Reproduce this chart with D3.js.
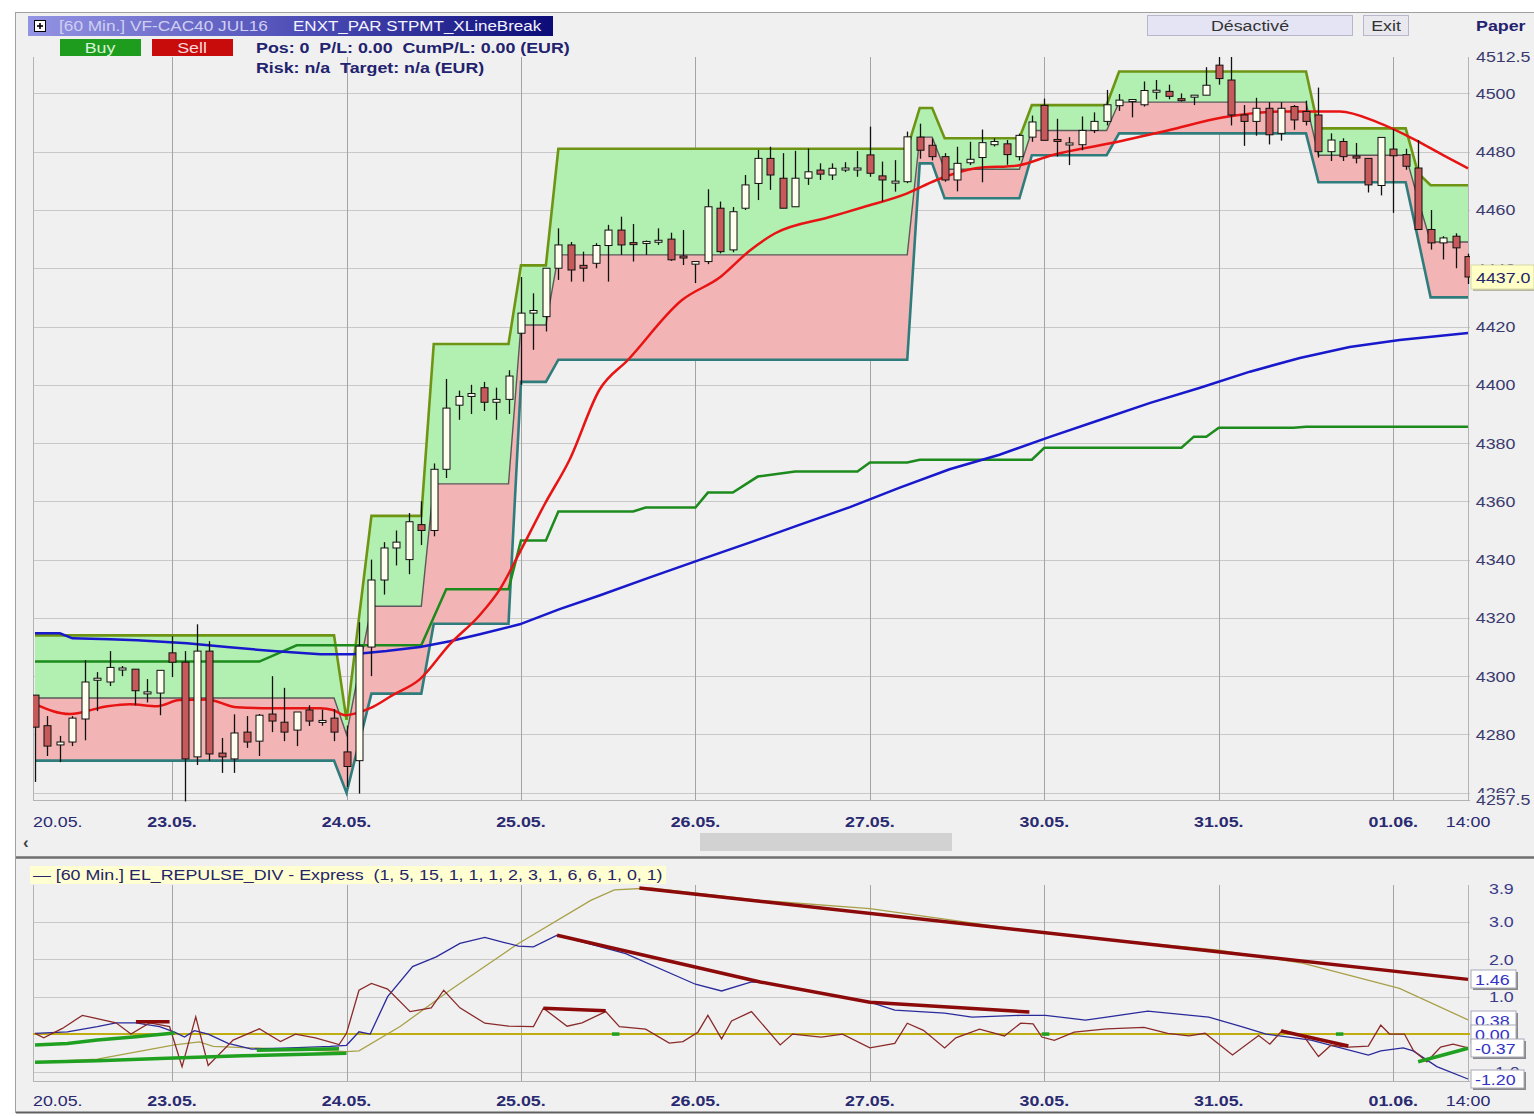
<!DOCTYPE html>
<html>
<head>
<meta charset="utf-8">
<title>VF-CAC40 JUL16 - STPMT_XLineBreak</title>
<script src="https://d3js.org/d3.v7.min.js"></script>
<style>
  body { margin: 0; background: #fff; }
  svg text { font-family: "Liberation Sans", Arial, sans-serif; white-space: pre; }
  .yaxis text { font-size: 15.5px; fill: #3a3a6e; }
  .xlab { font-size: 15.5px; fill: #2a2a70; }
  .tag text { font-size: 15.5px; fill: #3434c4; }
</style>
</head>
<body>
<svg width="1534" height="1116"></svg>
<script>
// ---- data: 60 min candles, 20.05 -> 01.06 14:00 ----
const candleOpen = [4293.5,4283,4276.4,4277.4,4285.3,4298.6,4298,4302.2,4302.4,4294,
  4294.2,4308,4304.8,4272.3,4308.6,4273.6,4271.6,4280.8,4277.7,4287,
  4284.2,4281.5,4288.4,4284.2,4285.6,4274,4271,4310,4333,4344,
  4340,4352,4350,4371,4393,4396,4399,4394,4395,4417.7,
  4424.6,4423.4,4440,4448,4441,4441.7,4447.8,4453.1,4448.8,4449,
  4449.3,4450,4444.2,4441.4,4442.3,4460.6,4446.3,4460.6,4469.1,4477.7,
  4470.9,4461.1,4470.9,4473.7,4472,4474.1,4474.2,4478.9,4471.7,4469.6,
  4469.7,4485,4482.2,4478.3,4470.3,4476.2,4478,4482.4,4482.7,4478.3,
  4485,4495.9,4484.2,4482.8,4482.4,4487.3,4490.4,4495.8,4497.7,4496.1,
  4500.9,4500.7,4498.2,4499.2,4499.4,4509.7,4504.6,4492.6,4490.4,4494.9,
  4486.3,4495.5,4493.8,4492.6,4480,4483.5,4478.5,4477.7,4468.4,4480.9,
  4479,4474.4,4453.3,4448.7,4451,4444];
const candleHigh = [4293.5,4286.3,4279.5,4286.3,4305.5,4301.4,4308.6,4303.5,4302.4,4299,
  4302,4313.7,4308.6,4317.8,4312,4278.8,4286.9,4286.3,4287,4300,
  4296,4287.7,4290,4288.5,4288.7,4283,4318.5,4340,4346,4350,
  4356,4360,4373,4402,4398,4400,4401,4399,4405,4437,
  4431.4,4440,4453.7,4449,4445.7,4448.6,4454.9,4457.7,4455.2,4449.5,
  4453.7,4452.2,4453.1,4442.3,4467.1,4462.9,4461,4472,4480.6,4481.7,
  4479.5,4480.3,4481.1,4476,4476,4476.4,4480.2,4488.6,4476.6,4477.1,
  4486.9,4489.6,4484.5,4479.5,4481.7,4483.4,4487.6,4484.6,4484,4486.2,
  4492.4,4498.2,4491.3,4485,4492.1,4493.5,4501.2,4499.8,4498,4504.1,
  4504.6,4503,4500,4499.4,4509,4512.5,4512.5,4496,4498.5,4497,
  4497,4496,4497.5,4502,4486.3,4484.6,4483,4477.7,4484.9,4487.7,
  4481,4484,4460,4451,4452,4445];
const candleLow = [4263.7,4272.6,4270.5,4276,4278,4288,4296.6,4300,4290,4291,
  4286.6,4299.7,4257,4269.5,4271,4266.8,4266.8,4275.4,4272.6,4280.8,
  4277.7,4276,4282.9,4283,4277.7,4262,4259.7,4300,4328,4338,
  4335,4345,4348,4368,4388,4390,4391,4388,4390,4400,
  4412,4418.3,4436,4435.4,4435.4,4440,4435.4,4444.6,4442.3,4444.6,
  4448,4442.5,4441.1,4434.9,4441.4,4445.1,4445.5,4460,4463.4,4466.9,
  4460.6,4461.1,4468.6,4470.3,4470.3,4473,4471.4,4471.4,4462.9,4466.3,
  4469.2,4477.6,4477,4469.7,4466.4,4475.4,4469.5,4481.8,4475.5,4477,
  4483.4,4483.9,4478.3,4475.4,4480.5,4486.4,4489,4494,4491.8,4495.5,
  4498,4498,4497.2,4496,4499.4,4503,4489,4482,4485.5,4482.5,
  4483.8,4487.5,4489,4478,4476.8,4476.8,4476,4466,4465,4459,
  4473.8,4453.3,4446.4,4443,4440,4434.6];
const candleClose = [4282.5,4276,4277.4,4285.6,4298,4299.3,4303,4302.8,4295,4294.6,
  4302,4304.8,4271.6,4308.6,4273.3,4272.3,4280.5,4277.4,4286.6,4284.6,
  4280.8,4287.7,4284.6,4284.8,4280.8,4269,4310.3,4333,4344,4346,
  4353,4350,4371,4392,4396,4397,4394,4395,4403,4424.6,
  4425.5,4440,4448,4439.4,4440,4447.8,4453.1,4448,4448.4,4449.2,
  4449.6,4442.9,4443.8,4442.3,4461.1,4445.7,4459.4,4468.6,4477.7,4472,
  4460.6,4470.9,4473.1,4472.3,4474.3,4474.4,4474.4,4472.6,4470.3,4469.9,
  4485.1,4480.5,4478.3,4470.3,4476,4477.4,4483.1,4483.5,4479,4485.6,
  4490.2,4483.9,4483.8,4483,4487.3,4490.4,4496.1,4497.7,4497.9,4501,
  4501.1,4499,4498,4499.4,4502.8,4505.1,4492.6,4490.4,4494.9,4485.8,
  4494.9,4490.9,4490.4,4480,4484,4478.3,4478.1,4468.6,4484.9,4478.6,
  4475,4453.3,4448.7,4450.4,4447,4437];

// XLineBreak bands: [bar, top, middle, bottom]
const bandPoints = [[0,4314,4292.5,4271],[24,4314,4292.5,4271],[25,4285,4280,4260],[26,4320,4302,4277],
  [27,4355,4324,4294],[31,4355,4324,4294],[32,4414,4366,4318],[38,4414,4366,4318],
  [39,4441,4420.5,4401],[41,4441,4420.5,4401],[42,4481,4444.6,4408.6],[70,4481,4444.6,4408.6],
  [71,4495,4485,4476],[72,4495,4485,4476],[73,4484.6,4474,4464],[79,4484.6,4474,4464],
  [80,4496,4487.3,4478.8],[86,4496,4487.3,4478.8],[87,4507.5,4497,4486.3],[102,4507.5,4497,4486.3],
  [103,4488,4478.8,4469.5],[110,4488,4478.8,4469.5],[111,4472.6,4463.5,4449.9],[112,4468.5,4449,4430],
  [115,4468.5,4449,4430]];

// moving averages: [bar, price]
const redMA = [[0,4290.4],[2.8,4287],[5.8,4289.7],[7.6,4290.4],[9.8,4289.7],[11.6,4291.8],[13.8,4292],
  [16.2,4289.3],[19.1,4289],[22.9,4289],[23.9,4288.4],[24.9,4286.6],[25.8,4287.3],[26.9,4289],
  [28.7,4293.5],[30.9,4299],[33.3,4311],[35.7,4321],[37.3,4329.8],[38.9,4342.5],[40.9,4359],
  [42.9,4374.3],[45.3,4398.3],[47.6,4408.6],[51.9,4429],[55,4437],[57.4,4446.2],[59.4,4452],
  [63.7,4457.5],[66.5,4461],[70,4465.7],[72.3,4470.2],[75.5,4474.3],[78.9,4475.3],[81.6,4478.8],
  [86.3,4482.9],[90.9,4487.3],[95.4,4491.8],[100.1,4493.8],[104.7,4493.8],[107.8,4490],
  [110.8,4484],[113,4478.8],[115,4474.3]];
const blueMA = [[0,4314.7],[2,4314.7],[3,4313],[6,4312.7],[8.2,4312.3],[12.2,4311.3],[15.4,4310],
  [19.1,4308.6],[22.9,4307.5],[25.5,4307.5],[28.2,4308.6],[30.9,4310],[33.3,4312],[35.7,4314.4],
  [38.9,4317.8],[42.1,4323],[45.3,4327.7],[49.4,4334],[53.4,4340],[57.4,4345.9],[61.4,4352],
  [65.4,4358],[69.4,4364.7],[73.4,4371],[77.4,4376],[81.5,4382.2],[85.5,4388],[89.5,4393.8],
  [93.5,4399],[97.5,4404.5],[101.5,4409.2],[105.5,4413],[109.5,4415.4],[115,4417.8]];
const greenMA = [[0,4305],[18,4305],[21,4310.6],[31,4310.6],[33,4329.8],[38,4329.8],[39,4346.6],
  [41,4346.6],[42,4356.5],[48,4356.5],[49,4357.9],[53,4357.9],[54,4363],[56,4363],[58,4368.5],
  [61,4370.2],[66,4370.2],[67,4373.3],[70,4373.3],[71,4374.3],[80,4374.3],[81,4378.4],[92,4378.4],
  [93,4382.2],[94,4382.2],[95,4385.3],[101,4385.3],[102,4385.6],[115,4385.6]];

// axis labels
const priceTicks = [4500,4480,4460,4440,4420,4400,4380,4360,4340,4320,4300,4280,4260];
const dayIndex = [0,11,25,39,53,67,81,95,109,115];
const dayLabels = ["20.05.","23.05.","24.05.","25.05.","26.05.","27.05.","30.05.","31.05.","01.06.","14:00"];
const lowTicks = [3.9,3.0,2.0,1.0,-1.0];
const lowTickLabels = ["3.9","3.0","2.0","1.0","-1.0"];
const lowGrid = [3,2,1,0,-1];
const lowTags = [1.46,0.38,0.00,-0.37,-1.20];

// EL_REPULSE_DIV indicator: [bar, value]
const repYellow = [[0,-0.75],[5,-0.67],[11.2,-0.29],[13.2,-0.21],[14.3,-0.33],[25,-0.47],[26,-0.45],
  [29.3,0.2],[33.3,1.17],[38.8,2.42],[44.6,3.57],[46.5,3.85],[49.4,3.9],[58.2,3.57],[67,3.35],
  [81.1,2.69],[95,2.24],[101.8,1.89],[109.5,1.22],[115,0.38]];
const repBlue = [[0,0.02],[2.6,0.06],[5,0.2],[6.5,0.3],[8.1,0.3],[10,0.2],[11.2,0.05],[12,-0.08],
  [12.8,0.09],[13.9,0],[15.5,-0.25],[17.4,-0.4],[20.5,-0.37],[23.7,-0.33],[25,-0.3],[26,0.06],
  [26.9,0],[28.3,1.0],[30.3,1.8],[32.2,2.06],[34.1,2.42],[36.1,2.58],[37.6,2.45],[38.8,2.35],
  [40,2.33],[41.9,2.64],[47.4,2.15],[53,1.33],[55.1,1.15],[57.5,1.39],[58.2,1.39],[67,0.85],
  [69,0.64],[73,0.56],[75.2,0.45],[79.1,0.5],[81.1,0.5],[84.3,0.37],[89.3,0.61],[94.2,0.45],
  [96.9,0.19],[98.8,0],[102.4,-0.16],[107,-0.56],[108,-0.45],[109.8,-0.37],[110.6,-0.45],
  [112.5,-0.87],[115,-1.2]];
const repBrown = [[0,0.02],[0.7,-0.1],[2.2,0.15],[3.8,0.5],[6.5,0.3],[7.7,0],[9.2,0.3],[10.8,0.2],
  [11.8,-0.87],[12.9,0.46],[13.9,-0.84],[15.9,-0.16],[18,0.14],[19.7,-0.2],[20.9,0],[22.5,-0.1],
  [24.4,-0.28],[25,0.02],[26,1.17],[27,1.35],[28.3,1.2],[30.1,0.6],[31.8,0.7],[32.8,1.17],
  [34.1,0.7],[36.1,0.29],[38,0.21],[40,0.2],[40.8,0.69],[42.7,0.21],[43.9,0.3],[45.8,0.6],
  [46.9,0.2],[49,0.13],[50.9,-0.24],[52,-0.2],[53.2,0.05],[54,0.5],[55.1,-0.13],[55.9,0.35],
  [57.5,0.6],[59.8,-0.29],[60.8,0],[63.1,-0.08],[64.8,0],[67,-0.37],[69,-0.25],[70,0.29],
  [71.3,0.1],[73,-0.37],[73.9,-0.1],[75.8,0.13],[77.8,-0.05],[79.1,0.29],[80.1,0.27],[80.8,-0.08],
  [81.8,-0.17],[83.4,0.05],[86,0.14],[89,0.18],[90.9,0.02],[92.6,-0.05],[93.9,0.02],[96.1,-0.56],
  [98.2,-0.04],[99.1,-0.27],[100.1,0.1],[101.8,-0.05],[103,-0.6],[104,-0.3],[105.4,-0.35],
  [107,-0.32],[108,0.24],[108.7,0],[109.9,0],[110.6,-0.43],[111.7,-0.74],[112.8,-0.35],
  [113.8,-0.27],[115,-0.37]];
const divBear = [
  [[8.1,0.33],[10.8,0.33]],
  [[40.8,0.69],[45.8,0.62]],
  [[41.9,2.64],[58.2,1.39],[67,0.85],[79.8,0.59]],
  [[48.5,3.9],[115,1.46]],
  [[100,0.08],[105.4,-0.32]]
];
const divBull = [
  [[0,-0.29],[2.6,-0.25],[5,-0.16],[8.1,-0.07],[11.2,0.03]],
  [[0,-0.75],[5,-0.71],[10,-0.65],[16.6,-0.58],[25,-0.51]],
  [[17.8,-0.43],[24.4,-0.39]],
  [[46.3,0],[46.9,0]],
  [[80.8,0],[81.4,0]],
  [[104.4,0],[105,0]],
  [[111,-0.74],[115,-0.38]]
];

// ---- setup ----
const svg = d3.select("svg");
const W = 1534, H = 1116;
const SX = 1.15;              // the screenshot text is a bit wide
const plotL = 33, plotR = 1470;
const mainTop = 57, mainBot = 800;
const lowTop = 885, lowBot = 1081;

const x = d3.scaleLinear().domain([0, 115]).range([35, 1468]);
const y = d3.scaleLinear().domain([4257.5, 4512.5]).range([mainBot, mainTop]);
const yLow = d3.scaleLinear().domain([-1.2, 3.9]).range([1079, 888]);

function label(parent, px, py, str, opts = {}) {
  return parent.append("text")
    .attr("transform", `translate(${px},${py}) scale(${SX},1)`)
    .attr("font-size", opts.size || 15.5)
    .attr("font-weight", opts.bold ? "bold" : "normal")
    .attr("text-anchor", opts.anchor || "start")
    .attr("fill", opts.fill || "#22226e")
    .text(str);
}

const defs = svg.append("defs");
defs.append("clipPath").attr("id", "clipMain")
  .append("rect").attr("x", plotL).attr("y", 50).attr("width", plotR - plotL).attr("height", mainBot - 50 + 2);
defs.append("clipPath").attr("id", "clipLow")
  .append("rect").attr("x", plotL).attr("y", lowTop).attr("width", plotR - plotL).attr("height", lowBot - lowTop);
const grad = defs.append("linearGradient").attr("id", "titleGrad");
grad.append("stop").attr("offset", "0%").attr("stop-color", "#9494e4");
grad.append("stop").attr("offset", "55%").attr("stop-color", "#4a4ab4");
grad.append("stop").attr("offset", "100%").attr("stop-color", "#0c0c78");

// window
svg.append("rect").attr("width", W).attr("height", H).attr("fill", "#ffffff");
svg.append("rect").attr("x", 15.5).attr("y", 12.5).attr("width", W - 15).attr("height", 1100)
  .attr("fill", "#f0f0f0").attr("stroke", "#a0a0a0");

// ---- main panel grid ----
const grid = svg.append("g");
grid.selectAll(".hg").data(priceTicks).join("line")
  .attr("x1", plotL).attr("x2", plotR)
  .attr("y1", d => Math.round(y(d)) + 0.5).attr("y2", d => Math.round(y(d)) + 0.5)
  .attr("stroke", "#c8c8c8");
grid.selectAll(".vg").data(dayIndex.slice(1, -1)).join("line")
  .attr("x1", d => Math.round(x(d)) + 0.5).attr("x2", d => Math.round(x(d)) + 0.5)
  .attr("y1", mainTop).attr("y2", mainBot)
  .attr("stroke", "#a4a4a4");
grid.append("line").attr("x1", plotL + 0.5).attr("x2", plotL + 0.5).attr("y1", mainTop).attr("y2", mainBot).attr("stroke", "#b4b4b4");
grid.append("line").attr("x1", plotR - 1.5).attr("x2", plotR - 1.5).attr("y1", mainTop).attr("y2", mainBot).attr("stroke", "#b4b4b4");
grid.append("line").attr("x1", plotL).attr("x2", plotR).attr("y1", mainBot + 0.5).attr("y2", mainBot + 0.5).attr("stroke", "#b4b4b4");

const main = svg.append("g").attr("clip-path", "url(#clipMain)");

// bands
const greenArea = d3.area().x(d => x(d[0])).y0(d => y(d[2])).y1(d => y(d[1]));
const pinkArea = d3.area().x(d => x(d[0])).y0(d => y(d[3])).y1(d => y(d[2]));
main.append("path").datum(bandPoints).attr("d", greenArea).attr("fill", "#b2f0b2");
main.append("path").datum(bandPoints).attr("d", pinkArea).attr("fill", "#f2b4b4");
const bandLine = k => d3.line().x(d => x(d[0])).y(d => y(d[k]));
main.append("path").datum(bandPoints).attr("d", bandLine(2)).attr("fill", "none").attr("stroke", "#5a5a5a").attr("stroke-width", 1.4);
main.append("path").datum(bandPoints).attr("d", bandLine(1)).attr("fill", "none").attr("stroke", "#6f9414").attr("stroke-width", 2.6);
main.append("path").datum(bandPoints).attr("d", bandLine(3)).attr("fill", "none").attr("stroke", "#2f7c7c").attr("stroke-width", 2.6);

// moving averages
const maLine = d3.line().x(d => x(d[0])).y(d => y(d[1]));
main.append("path").datum(greenMA).attr("d", maLine).attr("fill", "none").attr("stroke", "#1c8a1c").attr("stroke-width", 2.5);
main.append("path").datum(blueMA).attr("d", maLine).attr("fill", "none").attr("stroke", "#1818cc").attr("stroke-width", 2.5);
main.append("path").datum(redMA).attr("d", maLine.curve(d3.curveMonotoneX)).attr("fill", "none").attr("stroke", "#e81414").attr("stroke-width", 2.5);

// candles
const candles = d3.range(candleOpen.length).map(i => ({
  i, o: candleOpen[i], h: candleHigh[i], l: candleLow[i], c: candleClose[i]
}));
const cg = main.append("g").selectAll("g").data(candles).join("g");
cg.append("line")
  .attr("x1", d => Math.round(x(d.i)) + 0.5).attr("x2", d => Math.round(x(d.i)) + 0.5)
  .attr("y1", d => y(d.h)).attr("y2", d => y(d.l))
  .attr("stroke", "#111").attr("stroke-width", 1.3);
cg.append("rect")
  .attr("x", d => Math.round(x(d.i)) - 3)
  .attr("width", 7)
  .attr("y", d => y(Math.max(d.o, d.c)))
  .attr("height", d => Math.max(2, Math.abs(y(d.o) - y(d.c))))
  .attr("fill", d => d.c >= d.o ? "#fffff0" : "#c65a5a")
  .attr("stroke", "#111").attr("stroke-width", 1);

// price axis
const yAxis = svg.append("g").attr("class", "yaxis")
  .attr("transform", `translate(${plotR},0)`)
  .call(d3.axisRight(y).tickValues(priceTicks).tickSize(0).tickPadding(5).tickFormat(d3.format("d")));
yAxis.select(".domain").remove();
yAxis.selectAll(".tick text").attr("transform", `scale(${SX},1)`);
label(yAxis, 6, y(4512.5) + 5, "4512.5", { fill: "#3a3a6e" });
yAxis.append("rect").attr("x", 2).attr("y", 793).attr("width", 62).attr("height", 16).attr("fill", "#f0f0f0");
label(yAxis, 6, y(4257.5) + 5, "4257.5", { fill: "#3a3a6e" });

// last price tag
const lastClose = candleClose[candleClose.length - 1];
const tag = svg.append("g").attr("transform", `translate(1471,${Math.round(y(lastClose)) - 12})`);
tag.append("rect").attr("x", 2).attr("y", 2).attr("width", 63).attr("height", 24).attr("fill", "#b8b8a0");
tag.append("rect").attr("width", 63).attr("height", 24).attr("fill", "#ffffc6").attr("stroke", "#d8d8a8");
label(tag, 5, 17.5, lastClose.toFixed(1), { fill: "#24246a" });

// date labels
function dateLabels(yy) {
  const g = svg.append("g").attr("class", "xlab");
  dayIndex.forEach((d, i) => {
    const edge = i === 0 || i === dayIndex.length - 1;
    label(g, i === 0 ? 33 : x(d), yy, dayLabels[i], {
      anchor: i === 0 ? "start" : "middle", bold: !edge, fill: "#2a2a70"
    });
  });
}
dateLabels(827);

// scrollbar
svg.append("rect").attr("x", 700).attr("y", 833).attr("width", 252).attr("height", 18).attr("fill", "#d2d2d2");
svg.append("text").attr("x", 23).attr("y", 848).attr("font-size", 17).attr("font-weight", "bold").attr("fill", "#404040").text("‹");
svg.append("line").attr("x1", 16).attr("x2", W).attr("y1", 857.5).attr("y2", 857.5).attr("stroke", "#707070").attr("stroke-width", 2.5);

// ---- header ----
svg.append("rect").attr("x", 28).attr("y", 16).attr("width", 525).attr("height", 20).attr("fill", "url(#titleGrad)");
svg.append("rect").attr("x", 34.5).attr("y", 20.5).attr("width", 11).attr("height", 11).attr("fill", "#fff").attr("stroke", "#000");
svg.append("line").attr("x1", 37).attr("x2", 43).attr("y1", 26).attr("y2", 26).attr("stroke", "#000").attr("stroke-width", 1.6);
svg.append("line").attr("x1", 40).attr("x2", 40).attr("y1", 23).attr("y2", 29).attr("stroke", "#000").attr("stroke-width", 1.6);
label(svg, 59, 31, "[60 Min.] VF-CAC40 JUL16", { fill: "#cfcff2", size: 15 });
label(svg, 293, 31, "ENXT_PAR STPMT_XLineBreak", { fill: "#f4f4ff", size: 14.8 });

svg.append("rect").attr("x", 60).attr("y", 39).attr("width", 81).attr("height", 17).attr("fill", "#1e9c1e");
label(svg, 100, 53, "Buy", { anchor: "middle", fill: "#d8f4d8" });
svg.append("rect").attr("x", 152).attr("y", 39).attr("width", 81).attr("height", 17).attr("fill", "#c80c0c");
label(svg, 192, 53, "Sell", { anchor: "middle", fill: "#f8d8d8" });
label(svg, 256, 53, "Pos: 0  P/L: 0.00  CumP/L: 0.00 (EUR)", { bold: true });
label(svg, 256, 73, "Risk: n/a  Target: n/a (EUR)", { bold: true });

svg.append("rect").attr("x", 1147.5).attr("y", 15.5).attr("width", 205).attr("height", 20).attr("fill", "#e4e4f4").attr("stroke", "#b8b8cc");
label(svg, 1250, 31, "Désactivé", { anchor: "middle", fill: "#333" });
svg.append("rect").attr("x", 1363.5).attr("y", 15.5).attr("width", 45).attr("height", 20).attr("fill", "#e8e8ee").attr("stroke", "#b8b8cc");
label(svg, 1386, 31, "Exit", { anchor: "middle", fill: "#333" });
label(svg, 1476, 31, "Paper", { bold: true });

// ---- lower panel ----
svg.append("rect").attr("x", 30).attr("y", 866).attr("width", 636).attr("height", 18).attr("fill", "#ffffd2");
label(svg, 33, 880, "— [60 Min.] EL_REPULSE_DIV - Express  (1, 5, 15, 1, 1, 1, 2, 3, 1, 6, 6, 1, 0, 1)", { fill: "#24246a" });

const lg = svg.append("g");
lg.selectAll(".hg").data(lowGrid).join("line")
  .attr("x1", plotL).attr("x2", plotR)
  .attr("y1", d => Math.round(yLow(d)) + 0.5).attr("y2", d => Math.round(yLow(d)) + 0.5)
  .attr("stroke", "#c8c8c8");
lg.selectAll(".vg").data(dayIndex.slice(1, -1)).join("line")
  .attr("x1", d => Math.round(x(d)) + 0.5).attr("x2", d => Math.round(x(d)) + 0.5)
  .attr("y1", lowTop).attr("y2", lowBot)
  .attr("stroke", "#a4a4a4");
lg.append("line").attr("x1", plotL + 0.5).attr("x2", plotL + 0.5).attr("y1", lowTop).attr("y2", lowBot).attr("stroke", "#b4b4b4");
lg.append("line").attr("x1", plotR - 1.5).attr("x2", plotR - 1.5).attr("y1", lowTop).attr("y2", lowBot).attr("stroke", "#b4b4b4");
lg.append("line").attr("x1", plotL).attr("x2", plotR).attr("y1", lowBot + 0.5).attr("y2", lowBot + 0.5).attr("stroke", "#b4b4b4");

const low = svg.append("g").attr("clip-path", "url(#clipLow)");
const lowLine = d3.line().x(d => x(d[0])).y(d => yLow(d[1]));
low.append("line").attr("x1", plotL).attr("x2", plotR).attr("y1", yLow(0)).attr("y2", yLow(0))
  .attr("stroke", "#c0ae10").attr("stroke-width", 2);
low.append("path").datum(repYellow).attr("d", lowLine).attr("fill", "none").attr("stroke", "#a8a048").attr("stroke-width", 1.3);
low.append("path").datum(repBlue).attr("d", lowLine).attr("fill", "none").attr("stroke", "#2a2a9c").attr("stroke-width", 1.3);
low.append("path").datum(repBrown).attr("d", lowLine).attr("fill", "none").attr("stroke", "#8a2a2a").attr("stroke-width", 1.3);
low.selectAll(".bear").data(divBear).join("path").attr("d", lowLine)
  .attr("fill", "none").attr("stroke", "#8c0a0a").attr("stroke-width", 3.5);
low.selectAll(".bull").data(divBull).join("path").attr("d", lowLine)
  .attr("fill", "none").attr("stroke", "#20a020").attr("stroke-width", 3.5);

// lower axis labels and value tags
const lowAxis = svg.append("g");
lowTicks.forEach((d, i) => label(lowAxis, 1489, yLow(d) + 5.5, lowTickLabels[i], { fill: "#3a3a8a" }));
const tags = svg.append("g").attr("class", "tag").selectAll("g").data(lowTags).join("g")
  .attr("transform", d => `translate(1471,${Math.round(yLow(d)) - 9})`);
tags.append("rect").attr("x", 2).attr("y", 2).attr("width", d => d < 0 ? 53 : 45).attr("height", 18).attr("fill", "#8a8a8a");
tags.append("rect").attr("width", d => d < 0 ? 53 : 45).attr("height", 18).attr("fill", "#ffffff").attr("stroke", "#a8a8b8");
tags.append("text").attr("transform", `translate(4,14.5) scale(${SX},1)`).text(d => d.toFixed(2));

dateLabels(1106);

// window bottom edge
svg.append("line").attr("x1", 16).attr("x2", W).attr("y1", 1112.5).attr("y2", 1112.5).attr("stroke", "#606060").attr("stroke-width", 2);
</script>
</body>
</html>
